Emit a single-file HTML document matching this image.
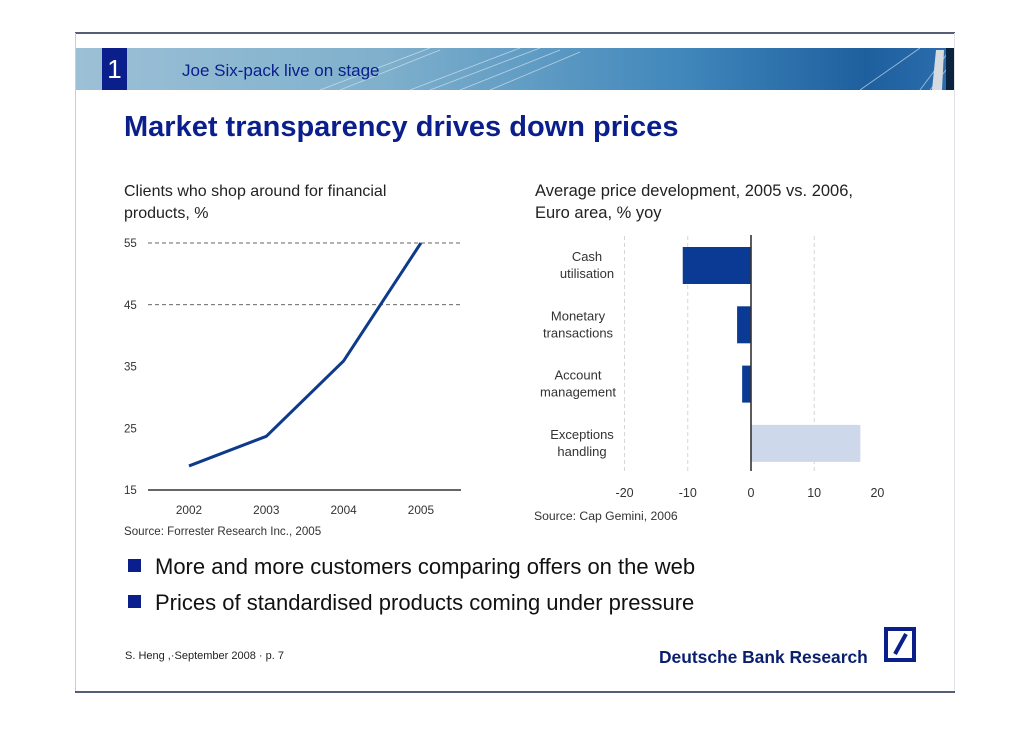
<!DOCTYPE html>
<html><head><meta charset="utf-8"><style>
body{margin:0;background:#fff;font-family:"Liberation Sans",sans-serif}
svg text{font-family:"Liberation Sans",sans-serif}
</style></head><body>
<svg width="1030" height="728" viewBox="0 0 1030 728" xmlns="http://www.w3.org/2000/svg">
<defs>
<linearGradient id="hb" x1="0" x2="1" y1="0" y2="0">
<stop offset="0" stop-color="#9cc0d6"/><stop offset="0.35" stop-color="#7fb0cc"/><stop offset="0.7" stop-color="#3f86bb"/><stop offset="0.9" stop-color="#1e5f9e"/><stop offset="1" stop-color="#2c6fae"/></linearGradient>
</defs>
<line x1="75" y1="33" x2="955" y2="33" stroke="#1b2a4a" stroke-width="1.5"/>
<line x1="75.5" y1="33" x2="75.5" y2="692" stroke="#c8ccd4"/>
<line x1="954.5" y1="33" x2="954.5" y2="692" stroke="#e0e3e8"/>
<line x1="75" y1="692" x2="955" y2="692" stroke="#1b2a4a" stroke-width="1.5"/>
<g>
<rect x="76" y="48" width="878" height="42" fill="url(#hb)"/>
<g stroke="#dbe9f3" stroke-width="0.8" opacity="0.7">
<line x1="320" y1="90" x2="430" y2="48"/><line x1="340" y1="90" x2="440" y2="50"/><line x1="410" y1="90" x2="520" y2="48"/>
<line x1="430" y1="90" x2="540" y2="48"/><line x1="460" y1="90" x2="560" y2="50"/><line x1="490" y1="90" x2="580" y2="52"/>
<line x1="860" y1="90" x2="920" y2="48"/><line x1="920" y1="90" x2="950" y2="50"/><line x1="930" y1="90" x2="954" y2="60"/>
</g>
<polygon points="932,90 936,50 944,50 942,90" fill="#d6dbe2"/>
<rect x="946" y="48" width="8" height="42" fill="#0c2340"/>
</g>
<rect x="102" y="48" width="25" height="42" fill="#0a1e8c"/>
<text x="114.5" y="78" font-size="26" fill="#fff" text-anchor="middle">1</text>
<text x="182" y="76" font-size="17" fill="#0a1e8c">Joe Six-pack live on stage</text>
<text x="124" y="136" font-size="29" font-weight="bold" fill="#0a1e8c">Market transparency drives down prices</text>

<text font-size="16" fill="#222"><tspan x="124" y="196">Clients who shop around for financial</tspan><tspan x="124" y="218">products, %</tspan></text>
<text font-size="16.5" fill="#222"><tspan x="535" y="196">Average price development, 2005 vs. 2006,</tspan><tspan x="535" y="218">Euro area, % yoy</tspan></text>

<g id="line-chart"></g>
<g id="bar-chart"></g>

<text x="124" y="535" font-size="11.6" fill="#333">Source: Forrester Research Inc., 2005</text>
<text x="534" y="520" font-size="12.2" fill="#333">Source: Cap Gemini, 2006</text>

<rect x="128" y="559" width="13" height="13" fill="#0a1e8c"/>
<text x="155" y="574" font-size="22" fill="#111">More and more customers comparing offers on the web</text>
<rect x="128" y="595" width="13" height="13" fill="#0a1e8c"/>
<text x="155" y="610" font-size="22" fill="#111">Prices of standardised products coming under pressure</text>

<text x="125" y="659" font-size="11" fill="#222">S. Heng ,·September 2008 ·  p. 7</text>
<text x="659" y="663" font-size="17.4" font-weight="bold" fill="#0a1e6e">Deutsche Bank Research</text>
<g>
<rect x="884" y="627" width="32" height="35" fill="#0a1e8c"/>
<rect x="888" y="631" width="24" height="27" fill="#fff"/>
<line x1="895" y1="654" x2="906" y2="634" stroke="#0a1e8c" stroke-width="4"/>
</g>
</svg>
<script>
const years=["2002","2003","2004","2005"];
const shoppers=[18.9,23.7,35.9,55];
const yTicks=[15,25,35,45,55];
const gridTicks=[45,55];
const barCats=[["Cash","utilisation"],["Monetary","transactions"],["Account","management"],["Exceptions","handling"]];
const priceChange=[-10.8,-2.2,-1.4,17.3];
const xTicks=[-20,-10,0,10,20];
const xGrid=[-20,-10,10];

const NS="http://www.w3.org/2000/svg";
function mk(p,t,a){const e=document.createElementNS(NS,t);for(const k in a)e.setAttribute(k,a[k]);p.appendChild(e);return e;}

const lc=document.getElementById('line-chart');
const ly=v=>490-(v-15)*(247/40);
const lx=i=>189+i*77.3;
gridTicks.forEach(t=>{const g=mk(lc,'line',{x1:148,x2:461,y1:ly(t),y2:ly(t),stroke:'#333','stroke-dasharray':'4,3','stroke-width':0.8});

});
yTicks.forEach(t=>{const e=mk(lc,'text',{x:124,y:ly(t)+4,'font-size':11.5,fill:'#333'});e.textContent=t;

});
const ax=mk(lc,'line',{x1:148,x2:461,y1:490,y2:490,stroke:'#333','stroke-width':1.6});


years.forEach((y,i)=>{const e=mk(lc,'text',{x:lx(i),y:514,'font-size':11.8,fill:'#333','text-anchor':'middle'});e.textContent=y;

});
const pl=mk(lc,'polyline',{points:shoppers.map((v,i)=>lx(i)+','+ly(v)).join(' '),fill:'none',stroke:'#0d3a8a','stroke-width':3});



const bc=document.getElementById('bar-chart');
const bx=v=>751+v*6.32;
xGrid.forEach(t=>{const g=mk(bc,'line',{x1:bx(t),x2:bx(t),y1:236,y2:472,stroke:'#ccc','stroke-dasharray':'4,3','stroke-width':0.8});

});
priceChange.forEach((v,i)=>{const top=247+i*59.3;
const r=mk(bc,'rect',{x:Math.min(bx(0),bx(v)),y:top,width:Math.abs(bx(v)-bx(0)),height:37,fill:v<0?'#0a3a94':'#cdd8ea'});


barCats[i].forEach((s,j)=>{const e=mk(bc,'text',{x:i==0?587:i==3?582:578,y:top+14+j*17,'font-size':13,fill:'#333','text-anchor':'middle'});e.textContent=s;

});});
const z=mk(bc,'line',{x1:bx(0),x2:bx(0),y1:235,y2:471,stroke:'#333','stroke-width':1.6});


xTicks.forEach(t=>{const e=mk(bc,'text',{x:bx(t),y:497,'font-size':12.5,fill:'#333','text-anchor':'middle'});e.textContent=t;

});
</script>
</body></html>
